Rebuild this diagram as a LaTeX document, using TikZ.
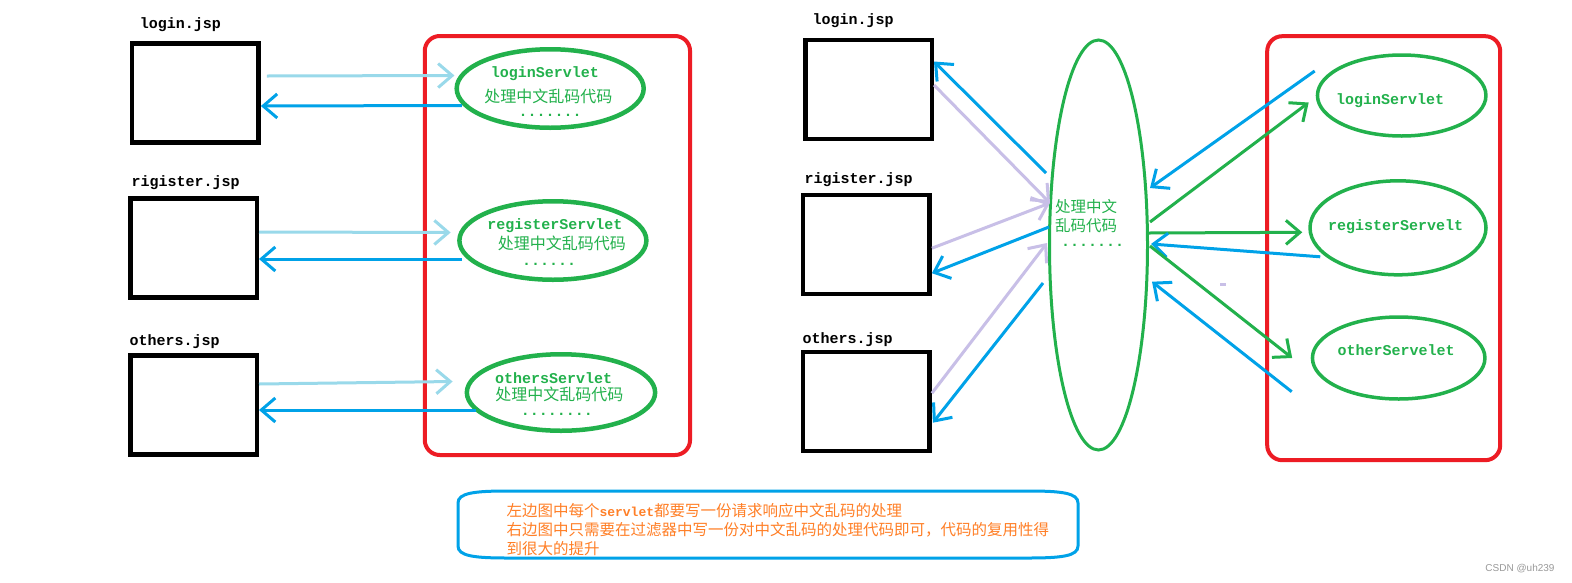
\documentclass[tikz,border=0pt]{standalone}
\usepackage{fontspec}
\setmonofont{Liberation Mono}
\newfontfamily\cjk{Noto Sans CJK SC}
\newfontfamily\wmfont{Liberation Sans}
\usetikzlibrary{shapes.geometric,arrows.meta}
\definecolor{pgreen}{HTML}{22B14C}
\definecolor{pred}{HTML}{ED1C24}
\definecolor{pblue}{HTML}{00A2E8}
\definecolor{plight}{HTML}{99D9EA}
\definecolor{plilac}{HTML}{C8BFE7}
\definecolor{porange}{HTML}{FF7F27}
\begin{document}
\begin{tikzpicture}[x=1pt, y=-1pt,
        >={Straight Barb[length=14pt, width=24pt]},
        jsp/.style={draw, line width=4.5pt, minimum width=126.5pt, minimum height=99pt, inner sep=0pt},
        jsplabel/.style={font=\fontsize{15}{15}\selectfont\ttfamily\bfseries},
        servlet/.style={ellipse, draw=pgreen, inner sep=0pt},
        svname/.style={text=pgreen, font=\fontsize{15}{15}\selectfont\ttfamily\bfseries},
        svcode/.style={text=pgreen, font=\cjk\fontsize{16}{19.5}\selectfont},
        redgroup/.style={draw=pred, line width=4pt, rounded corners=15pt, inner sep=0pt},
        request/.style={->, line width=3pt}]
        \path[use as bounding box, fill=white] (0,0) rectangle (1572,582);
        % left half
        \node[redgroup, minimum width=265.3pt, minimum height=419pt] (lgroup) at (557.4,245.5) {};
        \node[jsp] (ljsp1) at (195.4,93) {};
        \node[jsp] (ljsp2) at (193.5,248) {};
        \node[jsp] (ljsp3) at (193.5,405) {};
        \node[jsplabel] (ljsplabel1) at (180.5,25) {login.jsp};
        \node[jsplabel] (ljsplabel2) at (185.6,183) {rigister.jsp};
        \node[jsplabel] (ljsplabel3) at (174.7,342) {others.jsp};
        \node[servlet, line width=4.5pt, minimum width=187pt, minimum height=78.5pt] (lsv1) at (550.2,88.5) {};
        \node[servlet, line width=4.5pt, minimum width=187pt, minimum height=78.5pt] (lsv2) at (552.9,240.5) {};
        \node[servlet, line width=4.5pt, minimum width=188.3pt, minimum height=76.5pt] (lsv3) at (561,392.5) {};
        \node[svname] (lsvname1) at (544.8,74) {loginServlet};
        \node[svcode] (lsvcode1) at (548.3,96) {处理中文乱码代码};
        \node[svname] (lsvdots1) at (550,115) {.......};
        \node[svname] (lsvname2) at (555,226) {registerServlet};
        \node[svcode] (lsvcode2) at (561.8,243) {处理中文乱码代码};
        \node[svname] (lsvdots2) at (549,264) {......};
        \node[svname] (lsvname3) at (553.6,378) {othersServlet};
        \node[svcode] (lsvcode3) at (559.4,394) {处理中文乱码代码};
        \node[svname] (lsvdots3) at (557,414) {........};
        \draw[request, plight] ([xshift=6pt, yshift=17pt]ljsp1.east) -- ([yshift=13pt]lsv1.west);
        \draw[request, pblue] ([xshift=7.5pt, yshift=-17pt]lsv1.west) -- ([yshift=-13pt]ljsp1.east);
        \draw[request, plight] ([yshift=16pt]ljsp2.east) -- ([xshift=-6.5pt, yshift=8pt]lsv2.west);
        \draw[request, pblue] ([xshift=5pt, yshift=-18.5pt]lsv2.west) -- ([yshift=-11pt]ljsp2.east);
        \draw[request, plight] ([yshift=21pt]ljsp3.east) -- ([xshift=-12pt, yshift=11pt]lsv3.west);
        \draw[request, pblue] ([xshift=11pt, yshift=-17.5pt]lsv3.west) -- ([yshift=-5pt]ljsp3.east);
        % right half
        \node[redgroup, minimum width=233pt, minimum height=424pt] (rgroup) at (1383.7,248.2) {};
        \node[jsp] (rjsp1) at (868.5,89.5) {};
        \node[jsp] (rjsp2) at (866.4,244.7) {};
        \node[jsp] (rjsp3) at (866.4,401.7) {};
        \node[jsplabel] (rjsplabel1) at (853,21) {login.jsp};
        \node[jsplabel] (rjsplabel2) at (858.5,180) {rigister.jsp};
        \node[jsplabel] (rjsplabel3) at (847.7,340) {others.jsp};
        \node[servlet, line width=3pt, minimum width=98pt, minimum height=410pt] (filter) at (1098.5,245) {};
        \node[svcode, align=left, font=\cjk\fontsize{15.5}{19.5}\selectfont] (filtercode) at (1086,216) {处理中文\\乱码代码};
        \node[svname] (filterdots) at (1092.5,245) {.......};
        \node[servlet, line width=3.5pt, minimum width=168.5pt, minimum height=81pt] (rsv1) at (1401.7,95.5) {};
        \node[servlet, line width=3.5pt, minimum width=176pt, minimum height=94pt] (rsv2) at (1398,227.8) {};
        \node[servlet, line width=3.5pt, minimum width=172.5pt, minimum height=82pt] (rsv3) at (1398.7,358) {};
        \node[svname] (rsvname1) at (1390,100.5) {loginServlet};
        \node[svname] (rsvname2) at (1395.6,227) {registerServelt};
        \node[svname] (rsvname3) at (1396,350.5) {otherServelet};
        \draw[request, pblue] ([xshift=-2pt, yshift=72pt]filter.west) -- ([yshift=28pt]rjsp1.east);
        \draw[request, plilac] ([yshift=4.5pt]rjsp1.east) -- ([xshift=2pt, yshift=42pt]filter.west);
        \draw[request, plilac] ([yshift=-3.5pt]rjsp2.east) -- ([xshift=2pt, yshift=42pt]filter.west);
        \draw[request, pblue] ([xshift=1pt, yshift=18pt]filter.west) -- ([yshift=-28.5pt]rjsp2.east);
        \draw[request, plilac] ([yshift=8.5pt]rjsp3.east) -- ([xshift=-1pt, yshift=2pt]filter.west);
        \draw[request, pblue] ([xshift=-5pt, yshift=-38pt]filter.west) -- ([xshift=1pt, yshift=-21pt]rjsp3.east);
        \draw[request, pblue] ([xshift=-1pt, yshift=24.5pt]rsv1.west) -- ([xshift=1pt, yshift=57pt]filter.east);
        \draw[request, pgreen] ([xshift=1pt, yshift=23pt]filter.east) -- ([xshift=-7pt, yshift=-7pt]rsv1.west);
        \draw[request, pgreen] ([yshift=12pt]filter.east) -- ([xshift=-6pt, yshift=-4.5pt]rsv2.west);
        \draw[request, pblue] ([xshift=12pt, yshift=-29pt]rsv2.west) -- ([xshift=2pt, yshift=1pt]filter.east);
        \draw[request, pgreen] ([xshift=1pt, yshift=-1pt]filter.east) -- ([xshift=-18.5pt]rsv3.west);
        \draw[request, pblue] ([xshift=-19pt, yshift=-33.7pt]rsv3.west) -- ([xshift=3pt, yshift=-36.7pt]filter.east);
        \fill[plilac] (1220,283.3) rectangle (1226,286);
        % note
        \draw[pblue, line width=3pt] (508,491) -- (1028,491) .. controls (1062,491) and (1078,493) .. (1078,503)
            -- (1078,546) .. controls (1078,556) and (1062,558) .. (1028,558) -- (508,558)
            .. controls (474,558) and (458,556) .. (458,546) -- (458,503) .. controls (458,493) and (474,491) .. (508,491) -- cycle;
        \node[text=porange, align=left, anchor=west, font=\cjk\fontsize{15.5}{19}\selectfont] (note) at (503,530)
            {左边图中每个{\fontsize{13}{19}\selectfont\ttfamily\bfseries servlet}都要写一份请求响应中文乱码的处理\\右边图中只需要在过滤器中写一份对中文乱码的处理代码即可，代码的复用性得\\到很大的提升};
        \node[text=gray!80, font=\wmfont\fontsize{10}{10}\selectfont] (watermark) at (1520,569) {CSDN @uh239};
    \end{tikzpicture}
\end{document}
